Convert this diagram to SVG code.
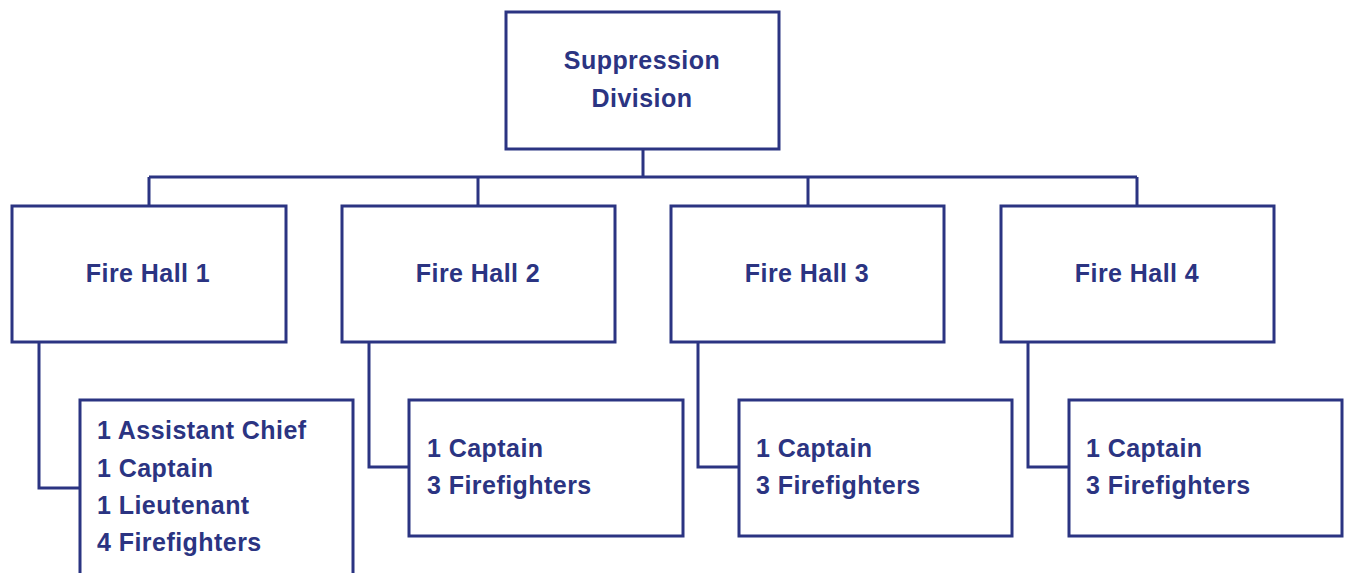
<svg xmlns="http://www.w3.org/2000/svg" width="1348" height="573" viewBox="0 0 1348 573">
<style>
.box{fill:#fff;stroke:#2b3482;stroke-width:3}
.ln{fill:none;stroke:#2b3482;stroke-width:3}
text{font-family:"Liberation Sans",Arial,sans-serif;font-weight:bold;font-size:25px;letter-spacing:0.45px;fill:#2b3482}
.c{text-anchor:middle}
</style>
<rect width="1348" height="573" fill="#fff"/>
<g id="connectors">
<path class="ln" d="M643,149 V177 M149,177 H1137 M149,177 V206 M478,177 V206 M808,177 V206 M1137,177 V206"/>
<path class="ln" d="M39,342 V488 H80"/>
<path class="ln" d="M369,342 V467 H409"/>
<path class="ln" d="M698,342 V467 H739"/>
<path class="ln" d="M1028,342 V467 H1069"/>
</g>
<g id="suppression">
<rect class="box" x="506" y="12" width="273" height="137"/>
<text class="c" x="642" y="69">Suppression</text>
<text class="c" x="642" y="107">Division</text>
</g>
<g id="hall1">
<rect class="box" x="12" y="206" width="274" height="136"/>
<text class="c" x="148" y="282">Fire Hall 1</text>
</g>
<g id="hall2">
<rect class="box" x="342" y="206" width="273" height="136"/>
<text class="c" x="478" y="282">Fire Hall 2</text>
</g>
<g id="hall3">
<rect class="box" x="671" y="206" width="273" height="136"/>
<text class="c" x="807" y="282">Fire Hall 3</text>
</g>
<g id="hall4">
<rect class="box" x="1001" y="206" width="273" height="136"/>
<text class="c" x="1137" y="282">Fire Hall 4</text>
</g>
<g id="staff1">
<rect class="box" x="80" y="400" width="273" height="200"/>
<text x="97" y="439">1 Assistant Chief</text>
<text x="97" y="477">1 Captain</text>
<text x="97" y="514">1 Lieutenant</text>
<text x="97" y="551">4 Firefighters</text>
</g>
<g id="staff2">
<rect class="box" x="409" y="400" width="274" height="136"/>
<text x="427" y="457">1 Captain</text>
<text x="427" y="494">3 Firefighters</text>
</g>
<g id="staff3">
<rect class="box" x="739" y="400" width="273" height="136"/>
<text x="756" y="457">1 Captain</text>
<text x="756" y="494">3 Firefighters</text>
</g>
<g id="staff4">
<rect class="box" x="1069" y="400" width="273" height="136"/>
<text x="1086" y="457">1 Captain</text>
<text x="1086" y="494">3 Firefighters</text>
</g>
</svg>
